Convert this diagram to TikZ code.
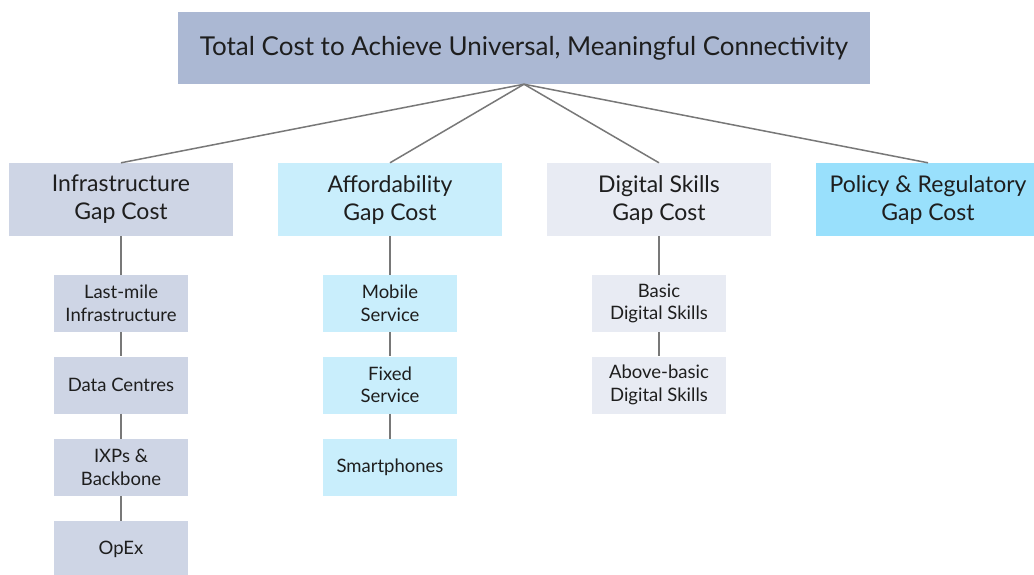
\documentclass[tikz,border=0pt]{standalone}
\usepackage{fontspec}
\setmainfont{Lato}
\usepackage{tikz}
\usetikzlibrary{positioning}
\definecolor{gctop}{RGB}{171,184,211}
\definecolor{gcinfra}{RGB}{206,213,229}
\definecolor{gcafford}{RGB}{201,238,252}
\definecolor{gcskills}{RGB}{232,235,243}
\definecolor{gcpolicy}{RGB}{153,224,252}
\definecolor{gcline}{RGB}{120,120,120}
\definecolor{gctext}{RGB}{30,30,30}
\tikzstyle{link} = [line width=1.5pt, color=gcline]
\tikzstyle{topbox} = [rectangle, minimum width=692pt, minimum height=72pt, fill=gctop, text=gctext, font=\fontsize{26}{30}\selectfont, inner sep=0pt]
\tikzstyle{gapbox} = [rectangle, minimum width=224pt, minimum height=73pt, text=gctext, align=center, font=\fontsize{23}{28}\selectfont, inner sep=0pt]
\tikzstyle{itembox} = [rectangle, minimum width=134pt, minimum height=57pt, text=gctext, align=center, font=\fontsize{18.5}{22.5}\selectfont, inner sep=0pt]

\begin{document}
\begin{tikzpicture}[x=1pt, y=-1pt]
\useasboundingbox (0,0) rectangle (1034,574);
\fill[white] (0,0) rectangle (1034,574);

% Top
\node[topbox] (total) at (524,48) {Total Cost to Achieve Universal, Meaningful Connectivity};

% Four gap costs
\node[gapbox, fill=gcinfra] (infra) at (121,199.5) {Infrastructure\\Gap Cost};
\node[gapbox, fill=gcafford] (afford) at (390,199.5) {Affordability\\Gap Cost};
\node[gapbox, fill=gcskills] (skills) at (659,199.5) {Digital Skills\\Gap Cost};
\node[gapbox, fill=gcpolicy] (policy) at (928,199.5) {Policy \& Regulatory\\Gap Cost};

\draw[link] (total.south) -- (infra.north);
\draw[link] (total.south) -- (afford.north);
\draw[link] (total.south) -- (skills.north);
\draw[link] (total.south) -- (policy.north);

% Infrastructure items
\node[itembox, fill=gcinfra] (lastmile) at (121,303.5) {Last-mile\\Infrastructure};
\node[itembox, fill=gcinfra] (datacentres) at (121,385) {Data Centres};
\node[itembox, fill=gcinfra] (ixps) at (121,467.5) {IXPs \&\\Backbone};
\node[itembox, fill=gcinfra] (opex) at (121,549.5) {OpEx};

\draw[link] (infra) -- (lastmile);
\draw[link] (lastmile) -- (datacentres);
\draw[link] (datacentres) -- (ixps);
\draw[link] (ixps) -- (opex);

% Affordability items
\node[itembox, fill=gcafford] (mobile) at (390,303.5) {Mobile\\Service};
\node[itembox, fill=gcafford] (fixed) at (390,385) {Fixed\\Service};
\node[itembox, fill=gcafford] (phones) at (390,467.5) {Smartphones};

\draw[link] (afford) -- (mobile);
\draw[link] (mobile) -- (fixed);
\draw[link] (fixed) -- (phones);

% Digital skills items
\node[itembox, fill=gcskills] (basic) at (659,303.5) {Basic\\Digital Skills};
\node[itembox, fill=gcskills] (abovebasic) at (659,385) {Above-basic\\Digital Skills};

\draw[link] (skills) -- (basic);
\draw[link] (basic) -- (abovebasic);
\end{tikzpicture}
\end{document}
